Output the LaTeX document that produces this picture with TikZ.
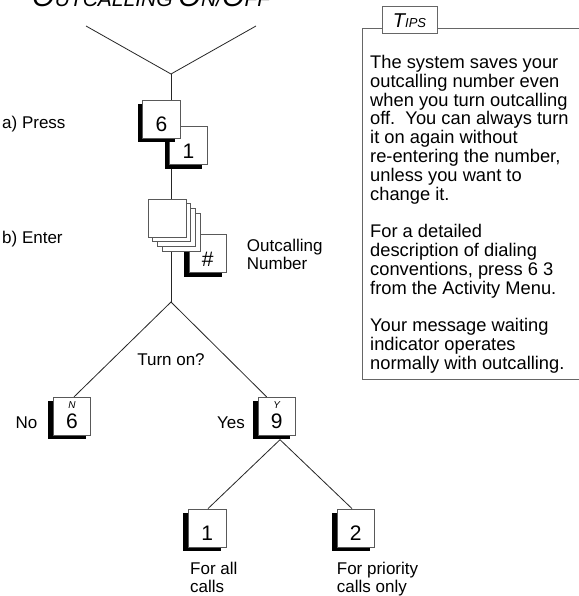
\documentclass[tikz,border=0pt]{standalone}
\usepackage{fontspec}
\setmainfont{Liberation Sans}
\usetikzlibrary{shadows,calc}
\begin{document}
\begin{tikzpicture}[x=1pt,y=-1pt,
  conn/.style={line width=0.8pt, black!85},
  frame/.style={line width=1pt, black!60},
  key/.style={draw=black!65, line width=0.8pt, fill=white, minimum width=37.5pt, minimum height=38pt,
    inner sep=0pt, font=\fontsize{21}{21}\selectfont, text height=25pt, text depth=0pt,
    general shadow={fill=black, shadow xshift=-5pt, shadow yshift=-4pt}},
  blank/.style={draw=black!65, line width=0.8pt, fill=white, minimum width=38pt, minimum height=38pt, inner sep=0pt},
  txt/.style={inner sep=0pt, font=\fontsize{17}{18.5}\selectfont},
  tipstxt/.style={inner sep=0pt, font=\fontsize{18.3}{18.8}\selectfont},
  keyletter/.style={inner sep=0pt, font=\fontsize{10}{10}\selectfont\itshape, anchor=north, yshift=-5pt},
]
\useasboundingbox (0,0) rectangle (578,596);
\fill[white] (0,0) rectangle (578,596);

% title (cut at top)
\node[anchor=base west, inner sep=0pt, font=\itshape] (title) at (32,7)
  {{\fontsize{29}{29}\selectfont O}{\fontsize{21}{21}\selectfont UTCALLING }{\fontsize{29}{29}\selectfont O}{\fontsize{21}{21}\selectfont N/}{\fontsize{29}{29}\selectfont O}{\fontsize{21}{21}\selectfont FF}};

% coordinates
\coordinate (tl) at (86,26);
\coordinate (tr) at (256,26);
\coordinate (v1) at (171,74);
\coordinate (v2) at (171,302);

% keys
\node[key] (k1) at (188.5,145.5) {1};
\node[key] (k6) at (161.5,119) {6};
\node[key] (khash) at (207.8,253.8) {\#};
\foreach \i in {3,2,1,0} {
  \node[blank] (s\i) at ({167+4.7*\i},{218+4.7*\i}) {};
}
\node[key, label={[keyletter]north:N}] (kN) at (72,416.3) {6};
\node[key, label={[keyletter]north:Y}] (kY) at (276.7,416.3) {9};
\node[key] (kA) at (207.2,528) {1};
\node[key] (kB) at (355.8,528) {2};

% connectors
\draw[conn] (tl) -- (v1) -- (tr);
\draw[conn] (v1) -- (v1 |- k6.north);
\coordinate (c1) at ([yshift=-4pt]k1.south);
\draw[conn] (v1 |- c1) -- (v1 |- s0.north);
\draw[conn] (v1 |- s3.south) -- (v2);
\draw[conn] ([xshift=2pt]kN.north) -- (v2) -- ([xshift=-10pt]kY.north);
\coordinate (v3) at ([xshift=3.3pt,yshift=-4pt]kY.south);
\draw[conn] ([xshift=0.8pt]kA.north) -- (v3) -- ([xshift=-3.8pt]kB.north);

% labels
\node[txt, anchor=base west] (la) at (2,129) {a) Press};
\node[txt, anchor=base west] (lb) at (2,243) {b) Enter};
\node[txt, anchor=north west, align=left] (lnum) at (246.7,238.6) {Outcalling\\Number};
\node[txt] (turn) at (171,360) {Turn on?};
\node[txt] (lno) at (26.5,423) {No};
\node[txt] (lyes) at (231,423) {Yes};
\node[txt, anchor=north west, align=left] (lall) at (190,561.6) {For all\\calls};
\node[txt, anchor=north west, align=left] (lprio) at (336.7,561.6) {For priority\\calls only};

% tips box
\node[draw=black!60, line width=1pt, minimum width=55pt, minimum height=27pt, inner sep=0pt, font=\itshape] (tipshead) at (409.5,20.5)
  {{\fontsize{20}{20}\selectfont T}{\fontsize{13}{13}\selectfont IPS}};
\draw[frame] (tipshead.east |- 0,29) -- (580,29);
\draw[frame] (tipshead.west |- 0,29) -- (362,29) -- (362,379) -- (580,379);
\node[tipstxt, anchor=north west, align=left] (tipstext) at (370,55)
  {The system saves your\\outcalling number even\\when you turn outcalling\\off.\ \ You can always turn\\it on again without\\re-entering the number,\\unless you want to\\change it.\\[18.8pt]
   For a detailed\\description of dialing\\conventions, press 6 3\\from the Activity Menu.\\[18.8pt]
   Your message waiting\\indicator operates\\normally with outcalling.};
\end{tikzpicture}
\end{document}
